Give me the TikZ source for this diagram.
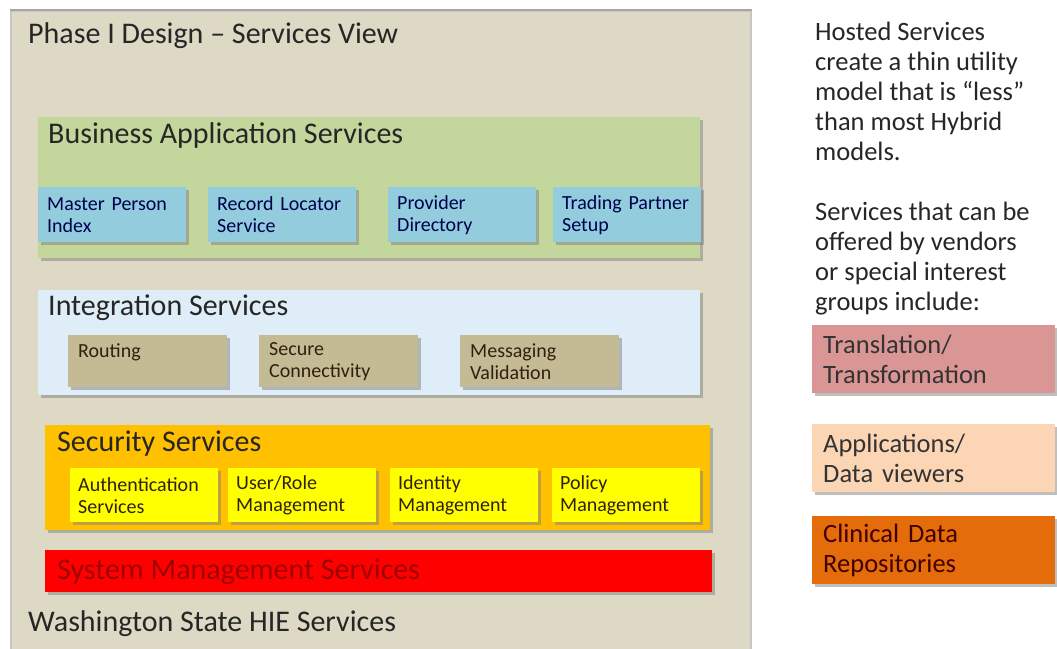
\documentclass[tikz,border=0pt]{standalone}
\usepackage{fontspec}
\setmainfont{Carlito}
\usetikzlibrary{shadows,positioning}

\definecolor{wsbg}{HTML}{DDD9C4}
\definecolor{bizgreen}{HTML}{C3D69B}
\definecolor{bizblue}{HTML}{93CDDD}
\definecolor{intblue}{HTML}{DEEDF7}
\definecolor{inttan}{HTML}{C4BA94}
\definecolor{secgold}{HTML}{FFC000}
\definecolor{secyellow}{HTML}{FFFF00}
\definecolor{sysred}{HTML}{FF0000}
\definecolor{sysdark}{HTML}{A00000}
\definecolor{trpink}{HTML}{D99694}
\definecolor{appeach}{HTML}{FCD5B5}
\definecolor{cdrorange}{HTML}{E46C0A}

\begin{document}
\begin{tikzpicture}[
    x=1pt, y=-1pt,
    panel/.style={rectangle, anchor=north west, inner sep=0pt},
    layer/.style={panel, drop shadow={shadow xshift=3pt, shadow yshift=-3pt, opacity=0.5}},
    heading/.style={anchor=west, inner sep=0pt, font=\fontsize{30}{32}\selectfont, text=black!85},
    item/.style={layer, inner xsep=9pt, align=left, font=\fontsize{20}{22}\selectfont},
    bizitem/.style={item, fill=bizblue, text=black!70!blue, text width=130pt, minimum height=55pt},
    intitem/.style={item, fill=inttan, text=black!75!brown, inner xsep=10pt, text width=139pt, minimum height=52pt},
    secitem/.style={item, fill=secyellow, text=black!75!brown, inner xsep=8pt, text width=132pt, minimum height=54pt},
    hosted/.style={item, inner xsep=11pt, text width=221pt, minimum height=68pt, font=\fontsize{26.5}{30}\selectfont, text=black!80},
    note/.style={anchor=north west, inner sep=0pt, align=left, font=\fontsize{26.5}{30}\selectfont, text=black!85}
]
\useasboundingbox[fill=white] (0,0) rectangle (1057,648);

% Washington State HIE frame
\node[panel, fill=wsbg, draw=gray!45, line width=1.5pt, minimum width=740pt, minimum height=640pt] (wa) at (10,10) {};
\draw[gray!70, line width=2.5pt] (wa.north west) -- (wa.north east);
\node[heading] (watitle) at (28,36) {Phase I Design -- Services View};
\node[heading] (wafoot) at (28,624) {Washington State HIE Services};

% Business application services
\node[layer, fill=bizgreen, minimum width=662pt, minimum height=141pt] (biz) at (38,117) {};
\node[heading] (biztitle) at (48,135) {Business Application Services};
\node[bizitem] (mpi) at (38,187) {Master Person\\Index};
\node[bizitem] (rls) at (208,187) {Record Locator\\Service};
\node[bizitem] (pd) at (388,187) {Provider\\Directory};
\node[bizitem] (tps) at (553,187) {Trading Partner\\Setup};

% Integration services
\node[layer, fill=intblue, minimum width=662pt, minimum height=105pt] (int) at (38,290) {};
\node[heading] (inttitle) at (48,308) {Integration Services};
\node[intitem] (route) at (68,335) {Routing\\\mbox{}};
\node[intitem] (conn) at (259,335) {Secure\\Connectivity};
\node[intitem] (msg) at (460,335) {Messaging\\Validation};

% Security services
\node[layer, fill=secgold, minimum width=665pt, minimum height=105pt] (sec) at (45,425) {};
\node[heading] (sectitle) at (57,444) {Security Services};
\node[secitem] (auth) at (70,468) {Authentication\\Services};
\node[secitem] (role) at (228,468) {User/Role\\Management};
\node[secitem] (ident) at (390,468) {Identity\\Management};
\node[secitem] (policy) at (552,468) {Policy\\Management};

% System management
\node[layer, fill=sysred, minimum width=667pt, minimum height=42pt] (sys) at (45,550) {};
\node[heading, text=sysdark] (systitle) at (57,572) {System Management Services};

% Hosted services
\node[note] (hostnote) at (815,22) {Hosted Services\\create a thin utility\\model that is “less”\\than most Hybrid\\models.};
\node[note] (offernote) at (815,202) {Services that can be\\offered by vendors\\or special interest\\groups include:};
\node[hosted, fill=trpink] (trans) at (812,325) {Translation/\\Transformation};
\node[hosted, fill=appeach] (apps) at (812,424) {Applications/\\Data viewers};
\node[hosted, fill=cdrorange, text=black!75!red] (cdr) at (812,516) {Clinical Data\\Repositories};

\end{tikzpicture}
\end{document}
